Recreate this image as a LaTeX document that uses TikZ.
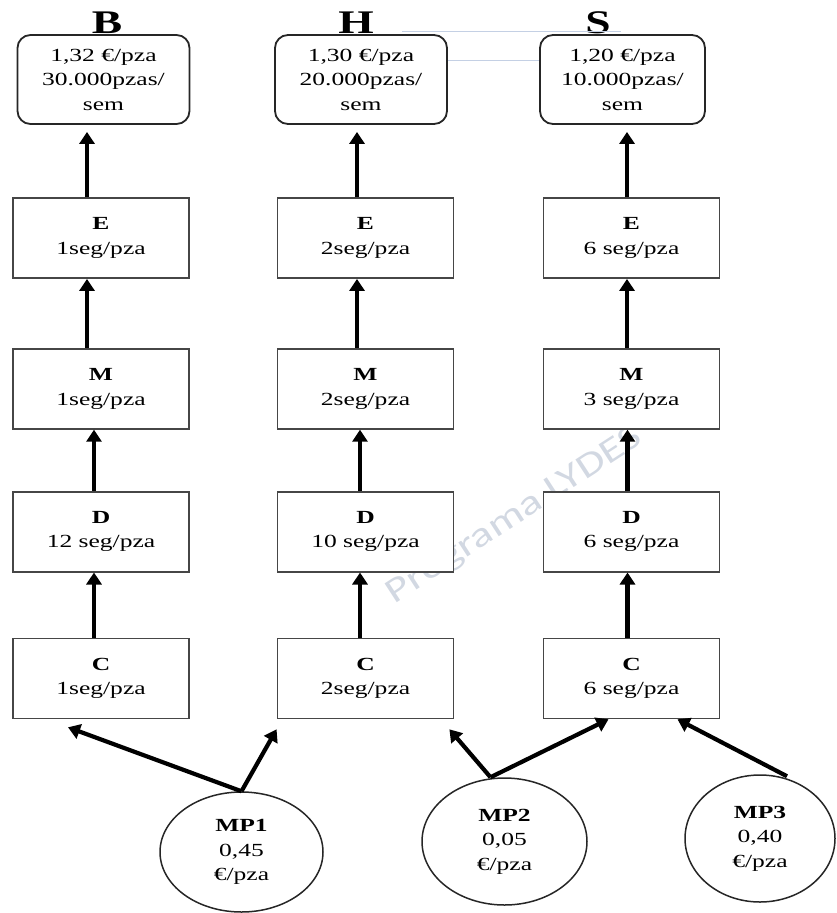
\documentclass[tikz,border=0pt]{standalone}
\usepackage{fontspec}
\setmainfont{Liberation Serif}[FakeStretch=1.38]
\newfontfamily\markfont{Carlito}[FakeStretch=1.3]
\usetikzlibrary{arrows.meta,positioning,shapes.geometric}
\definecolor{boxline}{RGB}{70,70,70}
\definecolor{ghostblue}{RGB}{196,208,228}
\definecolor{markgray}{RGB}{210,216,226}
\tikzset{
  prodbox/.style={rounded corners=13pt, draw=black!85, line width=1.8pt, fill=white,
                  minimum width=172pt, minimum height=89pt, align=center, inner sep=0pt},
  stepbox/.style={draw=boxline, line width=1.8pt, fill=white,
                  minimum width=176pt, minimum height=80pt, align=center, inner sep=0pt},
  mpnode/.style={ellipse, draw=black!85, line width=1.5pt, fill=white, align=center, inner sep=0pt},
  flow/.style={-{Triangle[length=12pt,width=15pt]}, line width=4.2pt},
  ghost/.style={draw=ghostblue, line width=1pt},
}

\begin{document}
\begin{tikzpicture}[x=1pt, y=-1pt, node distance=60pt,
    every node/.style={font=\fontsize{18.5}{24.5}\selectfont}]
  \useasboundingbox (0,0) rectangle (836,913);
  % watermark
  \node[rotate=33, text=markgray, inner sep=0pt, font=\markfont\fontsize{35}{35}\selectfont] (wmark) at (515,516) {Programa LYDES};
  % products
  \node[prodbox] (tB) at (103.5,79.5) {1,32 €/pza\\30.000pzas/\\sem};
  \node[prodbox] (tH) at (361,79.5) {1,30 €/pza\\20.000pzas/\\sem};
  \node[prodbox, minimum width=165pt] (tS) at (622.5,79.5) {1,20 €/pza\\10.000pzas/\\sem};
  \node[above=0pt of tB, xshift=3.5pt, inner sep=0pt, font=\bfseries\fontsize{33}{33}\selectfont] (lB) {B};
  \node[above=0pt of tH, xshift=-5pt, inner sep=0pt, font=\bfseries\fontsize{33}{33}\selectfont] (lH) {H};
  \node[above=0pt of tS, xshift=-24.5pt, inner sep=0pt, font=\bfseries\fontsize{33}{33}\selectfont] (lS) {S};
  \draw[ghost] ([xshift=41pt,yshift=3pt]tH.north) -- ([xshift=-2pt,yshift=3pt]tS.north);
  \draw[ghost] ([yshift=19.5pt]tH.east) -- ([yshift=19.5pt]tS.west);
  % column B
  \node[stepbox] (eB) at (101,238) {\textbf{E}\\1seg/pza};
  \node[stepbox, below=69pt of eB] (mB) {\textbf{M}\\1seg/pza};
  \node[stepbox, below=61pt of mB] (dB) {\textbf{D}\\12 seg/pza};
  \node[stepbox, below=65pt of dB] (cB) {\textbf{C}\\1seg/pza};
  % column H
  \node[stepbox] (eH) at (365.5,238) {\textbf{E}\\2seg/pza};
  \node[stepbox, below=69pt of eH] (mH) {\textbf{M}\\2seg/pza};
  \node[stepbox, below=61pt of mH] (dH) {\textbf{D}\\10 seg/pza};
  \node[stepbox, below=65pt of dH] (cH) {\textbf{C}\\2seg/pza};
  % column S
  \node[stepbox] (eS) at (631.5,238) {\textbf{E}\\6 seg/pza};
  \node[stepbox, below=69pt of eS] (mS) {\textbf{M}\\3 seg/pza};
  \node[stepbox, below=61pt of mS] (dS) {\textbf{D}\\6 seg/pza};
  \node[stepbox, below=65pt of dS] (cS) {\textbf{C}\\6 seg/pza};
  % raw materials
  \node[mpnode, minimum width=163pt, minimum height=120pt] (mp1) at (241.5,852) {\textbf{MP1}\\0,45\\€/pza};
  \node[mpnode, minimum width=165pt, minimum height=127pt] (mp2) at (504.5,841.5) {\textbf{MP2}\\0,05\\€/pza};
  \node[mpnode, minimum width=150pt, minimum height=127pt] (mp3) at (760,838.5) {\textbf{MP3}\\0,40\\€/pza};
  % flows up the columns
  \draw[flow, shorten >=7pt] ([xshift=-14pt]eB.north) -- ([xshift=-16.5pt]tB.south);
  \draw[flow] ([xshift=-14pt]mB.north) -- ([xshift=-14pt]eB.south);
  \draw[flow] ([xshift=-7pt]dB.north) -- ([xshift=-7pt]mB.south);
  \draw[flow] ([xshift=-7pt]cB.north) -- ([xshift=-7pt]dB.south);
  \draw[flow, shorten >=7pt] ([xshift=-8.5pt]eH.north) -- ([xshift=-4pt]tH.south);
  \draw[flow] ([xshift=-8.5pt]mH.north) -- ([xshift=-8.5pt]eH.south);
  \draw[flow] ([xshift=-5.5pt]dH.north) -- ([xshift=-5.5pt]mH.south);
  \draw[flow] ([xshift=-5.5pt]cH.north) -- ([xshift=-5.5pt]dH.south);
  \draw[flow, shorten >=7pt] ([xshift=-4.5pt]eS.north) -- ([xshift=4.5pt]tS.south);
  \draw[flow] ([xshift=-4.5pt]mS.north) -- ([xshift=-4.5pt]eS.south);
  \draw[flow] ([xshift=-4pt]dS.north) -- ([xshift=-4pt]mS.south);
  \draw[flow] ([xshift=-4pt]cS.north) -- ([xshift=-4pt]dS.south);
  % raw materials to first step
  \draw[flow] (mp1.north) -- ([xshift=-33pt,yshift=-8pt]cB.south);
  \draw[flow] (mp1.north) -- ([yshift=-10pt]cH.south west);
  \draw[flow] ([xshift=-14pt]mp2.north) -- ([xshift=-5pt,yshift=-10pt]cH.south east);
  \draw[flow] ([xshift=-14pt]mp2.north) -- ([xshift=-23pt]cS.south);
  \draw[flow] ([xshift=27pt,yshift=-2pt]mp3.north) -- ([xshift=46pt]cS.south);
\end{tikzpicture}
\end{document}
